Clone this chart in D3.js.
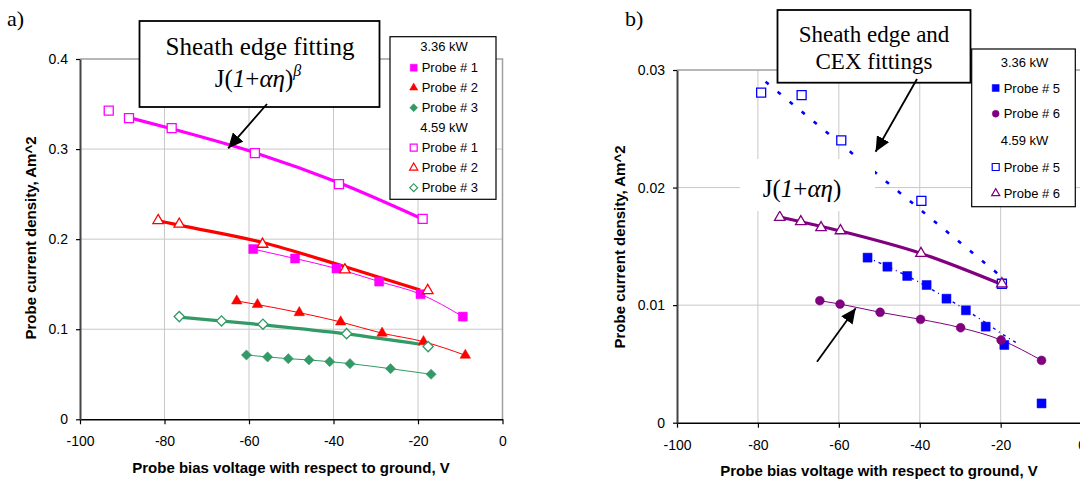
<!DOCTYPE html>
<html>
<head>
<meta charset="utf-8">
<script src="https://cdn.jsdelivr.net/npm/d3@7"></script>
<style>
body { margin: 0; background: #fff; }
text { font-family: "Liberation Sans", Arial, sans-serif; fill: #000; }
.serif { font-family: "Liberation Serif", "Times New Roman", serif; }
.axis text { font-size: 14px; }
.title { font-size: 15px; font-weight: bold; }
.leg { font-size: 13px; }
</style>
</head>
<body>
<svg id="chart" width="1080" height="482"></svg>
<script>
// ---- values ----
var xTicks = [-100, -80, -60, -40, -20, 0];
var yTicksA = [0, 0.1, 0.2, 0.3, 0.4];
var yTicksB = [0, 0.01, 0.02, 0.03];

// panel a, 3.36 kW
var p1_336 = [[-59.0,0.189],[-49.1,0.1785],[-39.3,0.1674],[-29.2,0.1529],[-19.4,0.1389],[-9.4,0.114]];
var p2_336 = [[-62.9,0.1314],[-58.0,0.1274],[-48.1,0.1184],[-38.3,0.1081],[-28.5,0.0956],[-18.7,0.0862],[-8.8,0.0711]];
var p3_336 = [[-60.6,0.0714],[-55.6,0.0692],[-50.7,0.0673],[-45.8,0.0659],[-40.9,0.064],[-36.1,0.0618],[-26.5,0.0562],[-16.9,0.05]];
// panel a, 4.59 kW
var p1_459 = [[-93.2,0.3426],[-88.4,0.3344],[-78.3,0.3233],[-58.6,0.2956],[-38.7,0.2611],[-18.9,0.2226]];
var p2_459 = [[-81.5,0.2207],[-76.5,0.2167],[-56.8,0.1944],[-37.3,0.166],[-17.7,0.143]];
var p3_459 = [[-76.5,0.114],[-66.5,0.1092],[-56.7,0.1056],[-36.9,0.0951],[-17.6,0.0807]];
// sheath edge fits (thick lines)
var fit1_459 = [[-88.4,0.335],[-78.3,0.3225],[-58.6,0.296],[-38.7,0.2625],[-19.5,0.2235]];
var fit2_459 = [[-81.5,0.2205],[-76.5,0.2155],[-57,0.1965],[-38,0.1705],[-19.5,0.1435]];
var fit3_459 = [[-76.5,0.1135],[-56.6,0.1048],[-36.9,0.0948],[-19.5,0.0833]];

// panel b, 3.36 kW
var p5_336 = [[-52.9,0.01404],[-48.0,0.01327],[-43.1,0.01248],[-38.3,0.01171],[-33.4,0.01055],[-28.6,0.00956],[-23.7,0.00817],[-19.1,0.00661],[-9.9,0.00164]];
var p6_336 = [[-64.7,0.01038],[-59.7,0.01009],[-49.8,0.00939],[-39.8,0.00879],[-29.9,0.00808],[-19.9,0.00703],[-9.9,0.0053]];
// panel b, 4.59 kW
var p5_459 = [[-79.2,0.02807],[-69.2,0.02787],[-59.4,0.02402],[-39.6,0.01886],[-19.7,0.01182]];
var p6_459 = [[-74.6,0.01747],[-69.4,0.0171],[-64.4,0.01659],[-59.6,0.01633],[-39.7,0.0144],[-19.7,0.01182]];
// fits
var fit5_459 = [[-78.1,0.0290],[-19.4,0.0123]];
var fit6_459 = [[-74.6,0.0175],[-59.6,0.0163],[-39.7,0.0144],[-20,0.0118]];
var fit5_336 = [[-52.9,0.01404],[-43.1,0.01248],[-33.4,0.0106],[-23.7,0.0085],[-19,0.0074],[-15.6,0.0067]];

var legendA = ["3.36 kW", "Probe # 1", "Probe # 2", "Probe # 3", "4.59 kW", "Probe # 1", "Probe # 2", "Probe # 3"];
var legendB = ["3.36 kW", "Probe # 5", "Probe # 6", "4.59 kW", "Probe # 5", "Probe # 6"];

var MAGENTA = "#ff00ff", RED = "#ff0000", GREEN = "#339966", BLUE = "#0000ff", PURPLE = "#800080";

var svg = d3.select("#chart");
svg.append("rect").attr("width", 1080).attr("height", 482).attr("fill", "#fff");

var defs = svg.append("defs");
defs.append("marker")
	.attr("id", "head")
	.attr("markerUnits", "userSpaceOnUse")
	.attr("markerWidth", 16).attr("markerHeight", 14)
	.attr("refX", 15).attr("refY", 7)
	.attr("orient", "auto")
	.append("path")
	.attr("d", "M0,0 L15,7 L0,14 Z")
	.attr("fill", "#000");

function symbolPath(shape, big) {
	var s = big ? 1 : 0.6;
	if (shape == "square") return d3.symbol(d3.symbolSquare, 81 * s)();
	if (shape == "triangle") return d3.symbol(d3.symbolTriangle, 48 * s)();
	if (shape == "diamond") return d3.symbol(d3.symbolSquare, 52 * s)();
	return d3.symbol(d3.symbolCircle, 62 * s)();
}

// frame: grid, grey plot border, axes
function frame(x, y, yTicks, yFmt) {
	var g = svg.append("g");
	var x0 = x.range()[0], x1 = x.range()[1], y0 = y.range()[0], y1 = y.range()[1];

	g.selectAll(".vgrid").data(xTicks.slice(1, -1)).enter().append("line")
		.attr("x1", function(d) { return x(d); }).attr("x2", function(d) { return x(d); })
		.attr("y1", y0).attr("y2", y1)
		.attr("stroke", "#c8c8c8").attr("stroke-width", 1);
	g.selectAll(".hgrid").data(yTicks.slice(1, -1)).enter().append("line")
		.attr("x1", x0).attr("x2", x1)
		.attr("y1", function(d) { return y(d); }).attr("y2", function(d) { return y(d); })
		.attr("stroke", "#c8c8c8").attr("stroke-width", 1);
	// top + right border
	g.append("path")
		.attr("d", "M" + x0 + "," + y1 + "H" + x1 + "V" + y0)
		.attr("fill", "none").attr("stroke", "#a0a0a0").attr("stroke-width", 1.5);

	var xAxis = d3.axisBottom(x).tickValues(xTicks).tickSize(5).tickSizeOuter(0)
		.tickFormat(function(d) { return String(d); });
	var xg = g.append("g").attr("class", "axis")
		.attr("transform", "translate(0," + y0 + ")").call(xAxis);
	xg.select(".domain").attr("stroke", "#000").attr("stroke-width", 1.5);
	xg.selectAll(".tick line").attr("stroke", "#000").attr("stroke-width", 1.2);
	xg.selectAll(".tick text").attr("dy", null).attr("y", 27).attr("fill", "#000")
		.style("font-family", "Liberation Sans, Arial, sans-serif");

	var yAxis = d3.axisLeft(y).tickValues(yTicks).tickSize(4).tickSizeOuter(0).tickFormat(yFmt);
	var yg = g.append("g").attr("class", "axis")
		.attr("transform", "translate(" + x0 + ",0)").call(yAxis);
	yg.select(".domain").attr("stroke", "#444").attr("stroke-width", 2);
	yg.selectAll(".tick line").attr("stroke", "#000").attr("stroke-width", 1.2);
	yg.selectAll(".tick text").attr("x", -12).attr("fill", "#000")
		.style("font-family", "Liberation Sans, Arial, sans-serif");
	return g;
}

function drawLine(x, y, data, color, width, dash) {
	var line = d3.line().x(function(d) { return x(d[0]); }).y(function(d) { return y(d[1]); })
		.curve(d3.curveMonotoneX);
	svg.append("path").datum(data)
		.attr("d", line)
		.attr("fill", "none")
		.attr("stroke", color)
		.attr("stroke-width", width)
		.attr("stroke-dasharray", dash || null);
}

function drawPoints(x, y, data, shape, color, filled) {
	svg.append("g").selectAll("path").data(data).enter().append("path")
		.attr("d", symbolPath(shape, true))
		.attr("transform", function(d) {
			return "translate(" + x(d[0]) + "," + y(d[1]) + ")" + (shape == "diamond" ? " rotate(45)" : "");
		})
		.attr("fill", filled ? color : "#fff")
		.attr("stroke", color)
		.attr("stroke-width", filled ? 0.5 : 1.3);
}

function legend(bx, by, bw, bh, markX, labels, rowY, symbols) {
	var g = svg.append("g");
	g.append("rect").attr("x", bx).attr("y", by).attr("width", bw).attr("height", bh)
		.attr("fill", "#fff").attr("stroke", "#000").attr("stroke-width", 1.2);
	labels.forEach(function(t, i) {
		var sym = symbols[i];
		var cy = rowY[i];
		if (!sym) {
			g.append("text").attr("class", "leg").attr("x", bx + bw / 2 + 1).attr("y", cy + 4.7)
				.attr("text-anchor", "middle").text(t);
			return;
		}
		g.append("path").attr("d", symbolPath(sym[0], false))
			.attr("transform", "translate(" + markX + "," + cy + ")" + (sym[0] == "diamond" ? " rotate(45)" : ""))
			.attr("fill", sym[2] ? sym[1] : "#fff").attr("stroke", sym[1]).attr("stroke-width", sym[2] ? 0.5 : 1.2);
		g.append("text").attr("class", "leg").attr("x", markX + 8).attr("y", cy + 4.7).text(t);
	});
}

// ================= panel a =================
var xA = d3.scaleLinear().domain([-100, 0]).range([80, 502.5]);
var yA = d3.scaleLinear().domain([0, 0.4]).range([419.3, 59]);
frame(xA, yA, yTicksA, function(d) { return d == 0 ? "0" : d3.format(".1f")(d); });

drawLine(xA, yA, fit1_459, MAGENTA, 3.2);
drawLine(xA, yA, fit2_459, RED, 3.2);
drawLine(xA, yA, fit3_459, GREEN, 3.2);
drawLine(xA, yA, p1_336, MAGENTA, 1);
drawLine(xA, yA, p2_336, RED, 1);
drawLine(xA, yA, p3_336, GREEN, 1);

drawPoints(xA, yA, p1_336, "square", MAGENTA, true);
drawPoints(xA, yA, p2_336, "triangle", RED, true);
drawPoints(xA, yA, p3_336, "diamond", GREEN, true);
drawPoints(xA, yA, p1_459, "square", MAGENTA, false);
drawPoints(xA, yA, p2_459, "triangle", RED, false);
drawPoints(xA, yA, p3_459, "diamond", GREEN, false);

svg.append("text").attr("class", "title").attr("x", 291).attr("y", 472.5)
	.attr("text-anchor", "middle").text("Probe bias voltage with respect to ground, V");
svg.append("text").attr("class", "title")
	.attr("transform", "translate(35.5,238) rotate(-90)")
	.attr("text-anchor", "middle").text("Probe current density, Am^2");
svg.append("text").attr("class", "serif").attr("x", 7).attr("y", 26)
	.style("font-size", "22px").text("a)");

// annotation box a
svg.append("rect").attr("x", 139.5).attr("y", 21).attr("width", 240).attr("height", 86)
	.attr("fill", "#fff").attr("stroke", "#000").attr("stroke-width", 1.8);
svg.append("text").attr("class", "serif").attr("x", 260).attr("y", 54.5)
	.attr("text-anchor", "middle").style("font-size", "25px").text("Sheath edge fitting");
var jA = svg.append("text").attr("class", "serif").attr("x", 258).attr("y", 86.5)
	.attr("text-anchor", "middle").style("font-size", "25px");
jA.append("tspan").text("J(");
jA.append("tspan").style("font-style", "italic").text("1");
jA.append("tspan").text("+");
jA.append("tspan").style("font-style", "italic").text("αη");
jA.append("tspan").text(")");
jA.append("tspan").attr("dy", -11).style("font-size", "16px").style("font-style", "italic").text("β");
svg.append("line").attr("x1", 267).attr("y1", 104).attr("x2", 228.2).attr("y2", 148.3)
	.attr("stroke", "#000").attr("stroke-width", 1.8).attr("marker-end", "url(#head)");

legend(390, 36.7, 106, 162.6, 413.7, legendA,
	[46.7, 67.7, 87.7, 107.7, 127.7, 147.7, 167.7, 187.7],
	[null, ["square", MAGENTA, true], ["triangle", RED, true], ["diamond", GREEN, true],
	 null, ["square", MAGENTA, false], ["triangle", RED, false], ["diamond", GREEN, false]]);

// ================= panel b =================
var xB = d3.scaleLinear().domain([-100, 0]).range([677, 1081.6]);
var yB = d3.scaleLinear().domain([0, 0.03]).range([422.7, 70]);
frame(xB, yB, yTicksB, function(d) { return d == 0 ? "0" : d3.format(".2f")(d); });

drawLine(xB, yB, fit5_459, BLUE, 2.6, "4,11.6");
drawLine(xB, yB, fit6_459, PURPLE, 3.2);
drawLine(xB, yB, fit5_336, BLUE, 1.4, "3,4,1,4");
drawLine(xB, yB, p6_336, PURPLE, 1);

drawPoints(xB, yB, p5_336, "square", BLUE, true);
drawPoints(xB, yB, p6_336, "circle", PURPLE, true);
drawPoints(xB, yB, p5_459, "square", BLUE, false);
drawPoints(xB, yB, p6_459, "triangle", PURPLE, false);

svg.append("text").attr("class", "title").attr("x", 879).attr("y", 476)
	.attr("text-anchor", "middle").text("Probe bias voltage with respect to ground, V");
svg.append("text").attr("class", "title")
	.attr("transform", "translate(625,247) rotate(-90)")
	.attr("text-anchor", "middle").text("Probe current density, Am^2");
svg.append("text").attr("class", "serif").attr("x", 625).attr("y", 26)
	.style("font-size", "22px").text("b)");

// J(1+an) label on white patch
svg.append("rect").attr("x", 740).attr("y", 159).attr("width", 135).attr("height", 52).attr("fill", "#fff");
var jB = svg.append("text").attr("class", "serif").attr("x", 802).attr("y", 196.5)
	.attr("text-anchor", "middle").style("font-size", "25px");
jB.append("tspan").text("J(");
jB.append("tspan").style("font-style", "italic").text("1");
jB.append("tspan").text("+");
jB.append("tspan").style("font-style", "italic").text("αη");
jB.append("tspan").text(")");

// annotation box b
svg.append("rect").attr("x", 777.5).attr("y", 10).attr("width", 193).attr("height", 72.7)
	.attr("fill", "#fff").attr("stroke", "#000").attr("stroke-width", 1.8);
svg.append("text").attr("class", "serif").attr("x", 874).attr("y", 42)
	.attr("text-anchor", "middle").style("font-size", "23px").text("Sheath edge and");
svg.append("text").attr("class", "serif").attr("x", 874).attr("y", 68.5)
	.attr("text-anchor", "middle").style("font-size", "23px").text("CEX fittings");
svg.append("line").attr("x1", 917).attr("y1", 79).attr("x2", 875.6).attr("y2", 151.7)
	.attr("stroke", "#000").attr("stroke-width", 1.8).attr("marker-end", "url(#head)");
svg.append("line").attr("x1", 817).attr("y1", 361.7).attr("x2", 855.7).attr("y2", 308.3)
	.attr("stroke", "#000").attr("stroke-width", 1.8).attr("marker-end", "url(#head)");

legend(971.7, 49, 103.6, 157.7, 995.7, legendB,
	[62.3, 88, 113.7, 140.3, 167, 193.3],
	[null, ["square", BLUE, true], ["circle", PURPLE, true],
	 null, ["square", BLUE, false], ["triangle", PURPLE, false]]);
</script>
</body>
</html>
